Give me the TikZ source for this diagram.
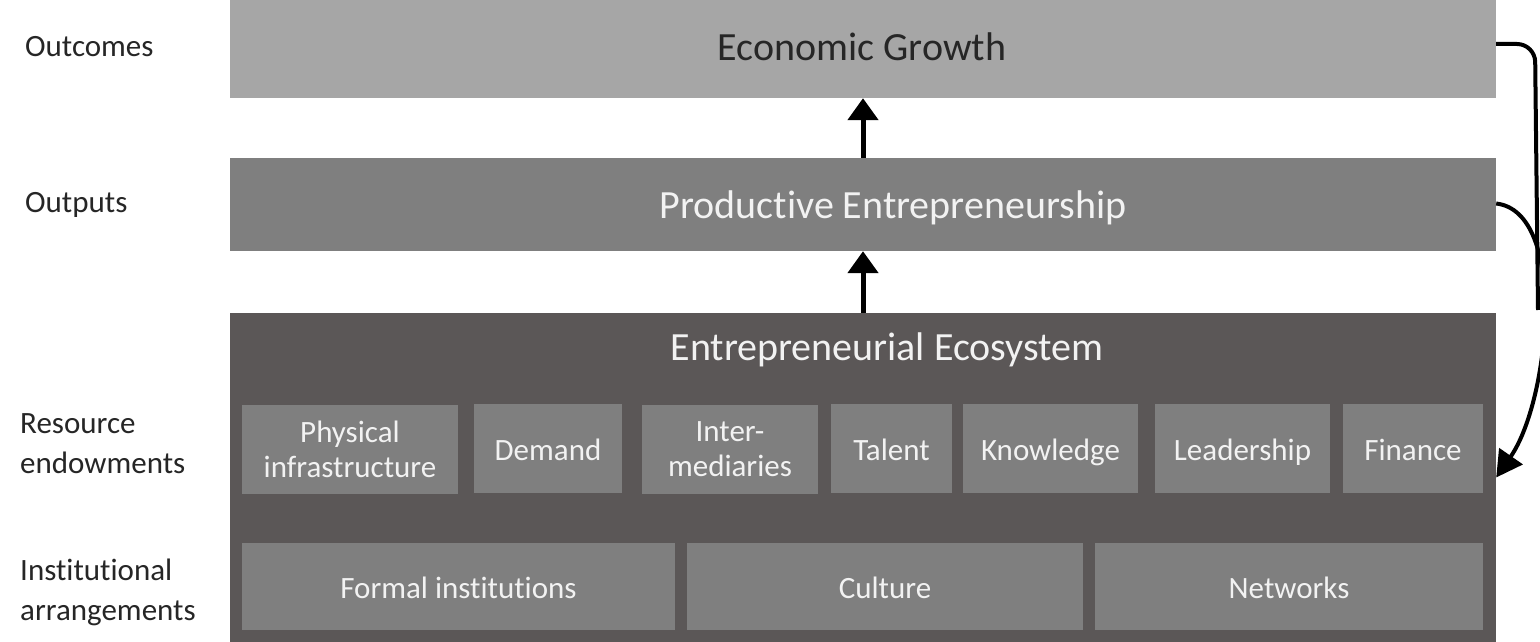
\documentclass[tikz,border=0pt]{standalone}
\usepackage{fontspec}
\setmainfont{Carlito}[Ligatures={NoCommon}]
\usetikzlibrary{arrows.meta}
\definecolor{lightbox}{HTML}{A6A6A6}
\definecolor{midbox}{HTML}{7F7F7F}
\definecolor{darkbox}{HTML}{5B5757}
\definecolor{smallbox}{HTML}{7F7F7F}
\definecolor{txtdark}{HTML}{262626}
\definecolor{txtlight}{HTML}{F2F2F2}
\tikzset{
  band/.style={rectangle, inner sep=0pt, minimum width=1266pt},
  bandtext/.style={inner sep=0pt, font=\fontsize{40}{48}\selectfont},
  cell/.style={rectangle, inner sep=0pt, fill=smallbox, text=txtlight, align=center,
    font=\fontsize{31}{35}\selectfont},
  onecell/.style={cell, text height=27pt, text depth=3pt},
  sidelabel/.style={anchor=west, align=left, text=txtdark, inner sep=0pt,
    font=\fontsize{31}{40}\selectfont},
  uparrow/.style={line width=5pt, -{Triangle[width=30pt,length=22pt]}},
  loop/.style={line width=4pt, black},
}
\begin{document}
\begin{tikzpicture}[x=1pt,y=-1pt]
\path[use as bounding box, fill=white] (0,0) rectangle (1540,642);
% bands
\node[band, fill=lightbox, minimum height=98pt] (eg) at (863,49) {};
\node[band, fill=midbox, minimum height=93pt] (pe) at (863,204.5) {};
\node[band, fill=darkbox, minimum height=329pt] (ee) at (863,477.5) {};
\node[bandtext, text=txtdark] (egt) at (862,47) {Economic Growth};
\node[bandtext, text=txtlight] (pet) at (893,208) {Productive Entrepreneurship};
\node[bandtext, text=txtlight] (eet) at (887,350) {Entrepreneurial Ecosystem};
% resource endowments
\node[cell, minimum width=216pt, minimum height=89pt] (phys) at (350,449.5) {Physical\\infrastructure};
\node[onecell, minimum width=148pt, minimum height=89pt] (dem) at (548,448.5) {Demand};
\node[cell, minimum width=176pt, minimum height=89pt] (inter) at (730,449.5) {Inter-\\mediaries};
\node[onecell, minimum width=121pt, minimum height=89pt] (tal) at (891.5,448.5) {Talent};
\node[onecell, minimum width=175pt, minimum height=89pt] (know) at (1050.5,448.5) {Knowledge};
\node[onecell, minimum width=175pt, minimum height=89pt] (lead) at (1242.5,448.5) {Leadership};
\node[onecell, minimum width=140pt, minimum height=89pt] (fin) at (1413,448.5) {Finance};
% institutional arrangements
\node[onecell, minimum width=433pt, minimum height=87pt] (formal) at (458.5,586.5) {Formal institutions};
\node[onecell, minimum width=396pt, minimum height=87pt] (cult) at (885,586.5) {Culture};
\node[onecell, minimum width=388pt, minimum height=87pt] (net) at (1289,586.5) {Networks};
% side labels
\node[sidelabel] (l1) at (25,47) {Outcomes};
\node[sidelabel] (l2) at (25,205) {Outputs};
\node[sidelabel] (l3) at (20,444) {Resource\\endowments};
\node[sidelabel] (l4) at (20,592) {Institutional\\arrangements};
% vertical arrows
\draw[uparrow] (pe.north) -- (eg.south);
\draw[uparrow] (ee.north) -- (pe.south);
% right-hand feedback
\coordinate (join) at (1538,310);
\draw[loop, rounded corners=18pt] ([yshift=5pt]eg.east) -- (1535,44) -- (join);
\draw[loop, -{Triangle[width=28pt,length=26pt]}] ([yshift=1pt]pe.east) .. controls (1568,212) and (1550,400) .. (ee.east);
\end{tikzpicture}
\end{document}
